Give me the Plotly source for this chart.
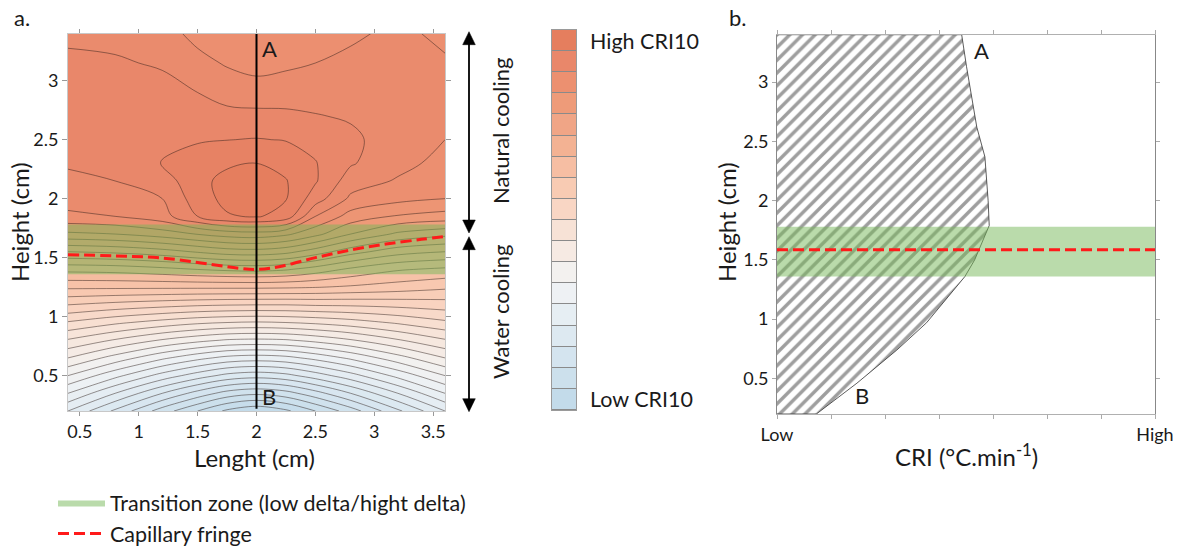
import plotly.graph_objects as go

FONT = "Lato, 'Open Sans', sans-serif"
INK = "#1a1a1a"
W, H = 1186, 553

# ---------------- panel a: CRI10 map over the sample section ----------------
length_cm = [0.4, 0.8, 1.2, 1.5, 1.75, 2.0, 2.25, 2.5, 2.8, 3.2, 3.6]
height_cm = [0.2, 0.35, 0.5, 0.65, 0.8, 0.95, 1.1, 1.25, 1.4, 1.55, 1.7,
             1.85, 2.0, 2.15, 2.3, 2.5, 2.7, 2.9, 3.15, 3.4]
# CRI10 (relative units, one unit per contour step); rows follow height_cm
cri10 = [
    [9.0, 6.8, 4.5, 3.0, 1.8, 1.2, 1.8, 3.0, 4.5, 6.8, 9.0],
    [11.0, 9.0, 7.0, 5.6, 4.6, 4.2, 4.6, 5.6, 7.0, 9.0, 11.0],
    [13.0, 11.3, 9.6, 8.5, 7.7, 7.4, 7.7, 8.5, 9.6, 11.3, 13.0],
    [15.0, 13.6, 12.2, 11.3, 10.7, 10.5, 10.7, 11.3, 12.2, 13.6, 15.0],
    [16.9, 15.9, 14.9, 14.3, 13.9, 13.8, 13.9, 14.3, 14.9, 15.9, 16.9],
    [18.9, 18.2, 17.6, 17.2, 17.0, 16.9, 17.0, 17.2, 17.55, 18.15, 18.8],
    [21.0, 20.65, 20.35, 20.15, 20.05, 20.0, 20.0, 20.1, 20.15, 20.3, 20.5],
    [23.2, 23.2, 23.2, 23.2, 23.2, 23.2, 23.15, 23.05, 22.85, 22.55, 22.2],
    [25.3, 25.4, 25.7, 26.0, 26.2, 26.3, 26.1, 25.55, 24.8, 24.1, 23.8],
    [28.0, 28.2, 28.6, 29.1, 29.5, 29.6, 29.3, 28.5, 27.4, 26.4, 26.0],
    [30.8, 31.0, 31.5, 32.05, 32.45, 32.6, 32.2, 31.3, 30.0, 28.8, 28.3],
    [32.8, 33.0, 33.6, 35.0, 35.9, 36.1, 35.6, 33.0, 31.6, 30.9, 30.6],
    [33.4, 33.6, 34.0, 35.5, 36.3, 36.45, 36.05, 34.5, 32.8, 32.3, 32.0],
    [33.8, 34.0, 34.5, 35.7, 36.3, 36.4, 36.05, 35.1, 33.5, 32.9, 32.4],
    [34.1, 34.3, 35.05, 35.5, 35.85, 36.0, 35.7, 35.05, 34.1, 33.3, 32.7],
    [34.3, 34.5, 34.75, 34.9, 34.98, 35.05, 34.95, 34.7, 34.2, 33.5, 33.0],
    [34.35, 34.5, 34.7, 34.5, 34.3, 34.25, 34.2, 34.05, 33.9, 33.55, 33.2],
    [34.3, 34.35, 34.3, 34.0, 33.6, 33.5, 33.55, 33.6, 33.6, 33.5, 33.25],
    [34.15, 34.1, 33.9, 33.3, 32.9, 32.6, 32.8, 33.0, 33.2, 33.35, 33.1],
    [33.85, 33.75, 33.4, 32.7, 32.3, 32.1, 32.25, 32.6, 32.85, 33.2, 32.8],
]

# capillary fringe traced across the section
fringe_x = [0.4, 0.8, 1.2, 1.6, 1.85, 2.0, 2.2, 2.5, 2.8, 3.1, 3.4, 3.6]
fringe_y = [1.525, 1.515, 1.497, 1.445, 1.41, 1.40, 1.425, 1.50, 1.565, 1.615, 1.655, 1.68]

# transition zone (low delta / high delta), in cm
band_low, band_high = 1.36, 1.78

# A-B profile position
profile_x = 2.0

# ---------------- panel b: CRI along the A-B profile ----------------
cri_profile = [0.0, 3.42, 3.51, 3.70, 3.85, 3.91, 3.93, 3.66, 3.48, 2.77, 2.22, 1.48, 0.73, 0.0]
cri_height = [3.4, 3.4, 3.13, 2.62, 2.37, 2.0, 1.79, 1.5, 1.36, 0.97, 0.74, 0.46, 0.2, 0.2]
fringe_level = 1.585
cri_range = [0, 7]
height_range = [0.2, 3.4]

# ---------------- colour key (low -> high) ----------------
key_colors = ["#c3dbea", "#cce0ec", "#d4e4ef", "#dde9f1", "#e6eef3", "#eef1f4",
              "#f3f1ef", "#f6eae3", "#f7e2d6", "#f9d6c4", "#f8cbb3", "#f6bea3",
              "#f3b293", "#f0a586", "#ee9b79", "#ec9070", "#e9876a", "#e57e5e"]
key_levels = list(range(len(key_colors)))
n_key = len(key_colors)
scale = [[i / (n_key - 1), c] for i, c in enumerate(key_colors)]

band_fill = "rgba(118,184,88,0.5)"
fringe_red = "#ff1a1a"

fig = go.Figure()

fig.add_trace(go.Contour(
    x=length_cm, y=height_cm, z=cri10,
    colorscale=scale, zmin=1.2, zmax=43,
    contours=dict(start=2, end=36, size=1, coloring="fill", showlines=True),
    line=dict(color="rgba(45,30,25,0.6)", width=0.8, smoothing=1.0),
    showscale=False, hoverinfo="skip", xaxis="x", yaxis="y",
))

x_lo, x_hi = length_cm[0], length_cm[-1]
fig.add_trace(go.Scatter(
    x=[x_lo, x_hi, x_hi, x_lo, x_lo], y=[band_low, band_low, band_high, band_high, band_low],
    fill="toself", fillcolor=band_fill, mode="lines", line=dict(width=0),
    name="Transition zone (low delta/hight delta)", legendgroup="band",
    hoverinfo="skip", xaxis="x", yaxis="y",
))
fig.add_trace(go.Scatter(
    x=fringe_x, y=fringe_y, mode="lines",
    line=dict(color=fringe_red, width=3, dash="11px,5px", shape="spline"),
    name="Capillary fringe", legendgroup="fringe", xaxis="x", yaxis="y",
))
fig.add_trace(go.Scatter(
    x=[profile_x, profile_x], y=[height_range[0] + 0.02, height_range[1]], mode="lines",
    line=dict(color="black", width=2), showlegend=False, hoverinfo="skip",
    xaxis="x", yaxis="y",
))

# colour key
fig.add_trace(go.Heatmap(
    x=[0], y=key_levels, z=[[v] for v in key_levels],
    colorscale=scale, zmin=0, zmax=n_key - 1, showscale=False, ygap=1,
    hoverinfo="skip", xaxis="x3", yaxis="y3",
))

# panel b
fig.add_trace(go.Scatter(
    x=cri_profile, y=cri_height, fill="toself", mode="lines",
    line=dict(color="#333333", width=0.8),
    fillcolor="white",
    fillpattern=dict(shape="/", size=9, solidity=0.38, fgcolor="#9e9e9e",
                     bgcolor="white", fillmode="replace"),
    showlegend=False, hoverinfo="skip", xaxis="x2", yaxis="y2",
))
fig.add_trace(go.Scatter(
    x=[cri_range[0], cri_range[1], cri_range[1], cri_range[0], cri_range[0]],
    y=[band_low, band_low, band_high, band_high, band_low],
    fill="toself", fillcolor=band_fill, mode="lines", line=dict(width=0),
    showlegend=False, legendgroup="band", hoverinfo="skip", xaxis="x2", yaxis="y2",
))
fig.add_trace(go.Scatter(
    x=cri_range, y=[fringe_level, fringe_level], mode="lines",
    line=dict(color=fringe_red, width=3, dash="11px,5px"),
    showlegend=False, legendgroup="fringe", hoverinfo="skip", xaxis="x2", yaxis="y2",
))


def px_x(p):
    return p / W


def px_y(p):
    return (H - p) / H


tick_font = dict(family=FONT, size=18, color=INK)
half_steps = [0.5, 1, 1.5, 2, 2.5, 3, 3.5]
common = dict(showgrid=False, zeroline=False, automargin=False)

fig.update_layout(
    template="none",
    width=W, height=H, margin=dict(l=0, r=0, t=0, b=0, pad=0, autoexpand=False),
    paper_bgcolor="white", plot_bgcolor="white",
    font=dict(family=FONT, color=INK),
    xaxis=dict(domain=[px_x(68), px_x(445)], range=[x_lo, x_hi], tickvals=half_steps,
               ticktext=["0.5", "1", "1.5", "2", "2.5", "3", "3.5"],
               ticks="outside", ticklen=4, tickcolor="#999", tickfont=tick_font,
               showline=True, linecolor="#c8c8c8", mirror="ticks", anchor="y", **common),
    yaxis=dict(domain=[px_y(411), px_y(33.5)], range=height_range, tickvals=half_steps[:-1],
               ticktext=["0.5", "1", "1.5", "2", "2.5", "3"],
               ticks="outside", ticklen=5, tickcolor="#999", tickfont=tick_font,
               showline=True, linecolor="#c8c8c8", mirror="ticks", anchor="x", **common),
    xaxis2=dict(domain=[px_x(777), px_x(1155)], range=cri_range,
                tickvals=list(range(cri_range[0], cri_range[1] + 1)),
                ticktext=["Low", "", "", "", "", "", "", "High"],
                ticks="outside", ticklen=4, tickcolor="#aaa", tickfont=tick_font,
                showline=True, linecolor="#b0b0b0", mirror="ticks", anchor="y2", **common),
    yaxis2=dict(domain=[px_y(414), px_y(34.7)], range=height_range, tickvals=half_steps[:-1],
                ticktext=["0.5", "1", "1.5", "2", "2.5", "3"],
                ticks="outside", ticklen=4, tickcolor="#aaa", tickfont=tick_font,
                showline=True, linecolor="#888", mirror="ticks", anchor="x2", **common),
    xaxis3=dict(domain=[px_x(552), px_x(576)], range=[-0.5, 0.5], showticklabels=False,
                ticks="", showline=True, linecolor="#9a9a9a", mirror=True, anchor="y3", **common),
    yaxis3=dict(domain=[px_y(410), px_y(30)], range=[-0.5, n_key - 0.5], showticklabels=False,
                ticks="", showline=True, linecolor="#9a9a9a", mirror=True, anchor="x3", **common),
    legend=dict(x=px_x(53), xanchor="left", y=px_y(482), yanchor="top",
                font=dict(family=FONT, size=21.5, color=INK), bgcolor="rgba(0,0,0,0)",
                itemwidth=47, traceorder="normal", tracegroupgap=0),
    showlegend=True,
)

# grey separators behind the colour key cells
fig.add_shape(type="rect", xref="x3 domain", yref="y3 domain", x0=0, x1=1, y0=0, y1=1,
              fillcolor="#8a8a8a", line=dict(width=0), layer="below")

# cooling regime arrows: shaft plus a filled head at each end
arrow_x = 469
head_len, head_half = 13, 6.3
for top_px, bot_px in [(31.7, 233.0), (236.7, 411.7)]:
    fig.add_shape(type="line", xref="paper", yref="paper",
                  x0=px_x(arrow_x), x1=px_x(arrow_x),
                  y0=px_y(top_px + head_len - 1), y1=px_y(bot_px - head_len + 1),
                  line=dict(color="black", width=1.8))
    up = (f"M {px_x(arrow_x)} {px_y(top_px)} L {px_x(arrow_x - head_half)} {px_y(top_px + head_len)} "
          f"L {px_x(arrow_x + head_half)} {px_y(top_px + head_len)} Z")
    down = (f"M {px_x(arrow_x)} {px_y(bot_px)} L {px_x(arrow_x - head_half)} {px_y(bot_px - head_len)} "
            f"L {px_x(arrow_x + head_half)} {px_y(bot_px - head_len)} Z")
    for path in (up, down):
        fig.add_shape(type="path", xref="paper", yref="paper", path=path,
                      fillcolor="black", line=dict(color="black", width=0.5))

ann = []


def label(text, x, y, xref="paper", yref="paper", size=22, **kw):
    ann.append(dict(text=text, x=x, y=y, xref=xref, yref=yref, showarrow=False,
                    font=dict(family=FONT, size=size, color=INK), **kw))


label("a.", px_x(12), px_y(18), xanchor="left", yanchor="middle")
label("b.", px_x(727), px_y(18), xanchor="left", yanchor="middle")
label("A", profile_x + 0.03, 3.27, "x", "y", xanchor="left", yanchor="middle")
label("B", profile_x + 0.03, 0.32, "x", "y", xanchor="left", yanchor="middle")
label("A", 3.62, 3.27, "x2", "y2", xanchor="left", yanchor="middle")
label("B", 1.41, 0.36, "x2", "y2", xanchor="left", yanchor="middle")
label("Natural cooling", px_x(500), px_y(131), size=22, textangle=-90,
      xanchor="center", yanchor="middle")
label("Water cooling", px_x(500), px_y(312), size=22, textangle=-90,
      xanchor="center", yanchor="middle")
label("Lenght (cm)", px_x(254), px_y(457), size=24, xanchor="center", yanchor="middle")
label("Height (cm)", px_x(20), px_y(222), size=24, textangle=-90, xanchor="center", yanchor="middle")
label("Height (cm)", px_x(727), px_y(222), size=24, textangle=-90, xanchor="center", yanchor="middle")
label("CRI (°C.min<sup>-1</sup>)", px_x(966), px_y(455), size=24, xanchor="center", yanchor="middle")
label("High CRI10", 1, n_key - 1, "x3 domain", "y3", size=21.5, xanchor="left", yanchor="middle", xshift=12)
label("Low CRI10", 1, 0, "x3 domain", "y3", size=21.5, xanchor="left", yanchor="middle", xshift=12)

fig.update_layout(annotations=ann)

fig.write_html("out.html")
